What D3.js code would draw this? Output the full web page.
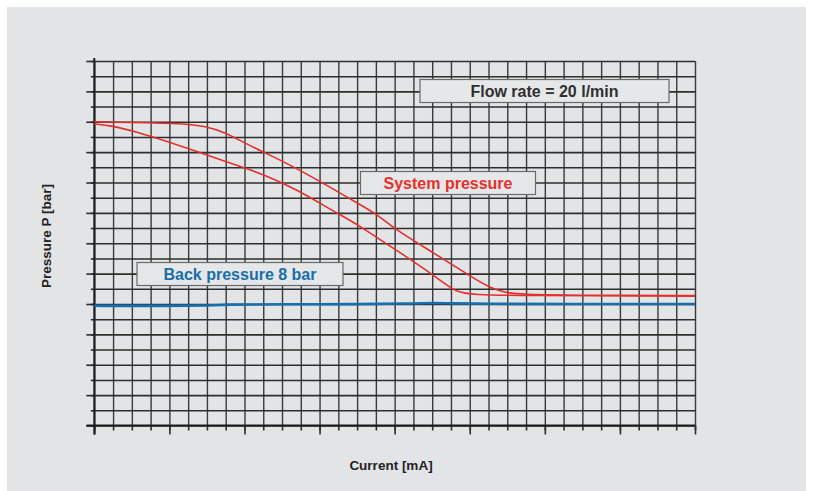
<!DOCTYPE html>
<html>
  <head>
    <title>Pressure vs current</title>
    <script src="https://d3js.org/d3.v7.min.js"></script>
    <style>
        body { margin: 0; background: #ffffff; }
        text { font-family: "Liberation Sans", Arial, Helvetica, sans-serif; font-weight: bold; }
    </style>
  </head>
  <body>
    <svg id="chart" width="813" height="491"></svg>
  </body>
  <script type="text/javascript">
    // current in grid units (32 columns), pressure in bar (24 rows)
    var upperX = [0, 4.8, 5.9, 7.0, 8.0, 9.1, 10.2, 12.0, 14.0, 15.2, 15.9, 18.1, 20.2, 21.1, 22.0, 22.7, 26, 32];
    var upperY = [20.0, 19.9, 19.7, 19.3, 18.6, 17.95, 17.3, 16.1, 14.65, 13.8, 13.0, 11.35, 9.7, 9.05, 8.72, 8.64, 8.57, 8.55];
    var lowerX = [0, 0.9, 2.2, 3.9, 5.7, 7.5, 9.1, 10.8, 12.6, 14.2, 15.2, 16.6, 18.4, 19.3, 20.2, 22.7, 32];
    var lowerY = [19.85, 19.74, 19.36, 18.7, 17.94, 17.17, 16.5, 15.53, 14.21, 13.11, 12.24, 11.14, 9.61, 8.75, 8.62, 8.55, 8.52];
    var backX = [0, 3, 6.6, 6.8, 10, 14, 17, 18, 19, 21, 25, 32];
    var backY = [7.88, 7.87, 7.89, 7.97, 7.98, 7.99, 8.03, 8.08, 8.04, 8.01, 8.0, 8.0];

    var xTicks = d3.range(0, 33);
    var yTicks = d3.range(0, 25);

    var svg = d3.select("#chart");

    svg.append("rect")
        .attr("x", 7).attr("y", 7)
        .attr("width", 799).attr("height", 484)
        .attr("fill", "#e3e4e6");

    var plotLeft = 94.3, plotRight = 695, plotTop = 61, plotBottom = 425.5;
    var xScale = d3.scaleLinear().domain([0, 32]).range([plotLeft, plotRight]);
    var yScale = d3.scaleLinear().domain([0, 24]).range([plotBottom, plotTop]);

    // vertical grid lines
    svg.append("g")
        .attr("transform", "translate(0," + plotBottom + ")")
        .call(d3.axisBottom(xScale).tickValues(xTicks).tickSize(-(plotBottom - plotTop)).tickFormat(""))
        .call(function(g){
            g.select(".domain").remove();
            g.selectAll("line").attr("stroke", "#3a3a3a").attr("stroke-width", 1.4);
        });

    // horizontal grid lines
    svg.append("g")
        .attr("transform", "translate(" + plotLeft + ",0)")
        .call(d3.axisLeft(yScale).tickValues(yTicks).tickSize(-(plotRight - plotLeft)).tickFormat(""))
        .call(function(g){
            g.select(".domain").remove();
            g.selectAll("line").attr("stroke", "#2e2e2e").attr("stroke-width", 1.6);
        });

    // outward tick marks
    svg.append("g")
        .attr("transform", "translate(0," + plotBottom + ")")
        .call(d3.axisBottom(xScale).tickValues(xTicks).tickSize(5).tickFormat(""))
        .call(function(g){ g.select(".domain").remove(); });
    svg.append("g")
        .attr("transform", "translate(0," + plotBottom + ")")
        .call(d3.axisBottom(xScale).tickValues(xTicks.filter(function(d){ return d % 4 === 0; })).tickSize(9).tickFormat(""))
        .call(function(g){ g.select(".domain").remove(); });
    svg.append("g")
        .attr("transform", "translate(" + plotLeft + ",0)")
        .call(d3.axisLeft(yScale).tickValues(yTicks).tickSize(3.5).tickFormat(""))
        .call(function(g){ g.select(".domain").remove(); });
    svg.append("g")
        .attr("transform", "translate(" + plotLeft + ",0)")
        .call(d3.axisLeft(yScale).tickValues(yTicks.filter(function(d){ return d % 2 === 0; })).tickSize(8).tickFormat(""))
        .call(function(g){ g.select(".domain").remove(); });
    svg.selectAll(".tick line").filter(function(){ return !this.getAttribute("stroke-width"); })
        .attr("stroke", "#2e2e2e").attr("stroke-width", 1.6);

    // main axis lines
    svg.append("line").attr("x1", 86.5).attr("x2", plotRight).attr("y1", plotBottom).attr("y2", plotBottom)
        .attr("stroke", "#1e1e1e").attr("stroke-width", 2);
    svg.append("line").attr("x1", plotLeft).attr("x2", plotLeft).attr("y1", plotTop - 3).attr("y2", plotBottom + 9)
        .attr("stroke", "#1e1e1e").attr("stroke-width", 2);

    var line = d3.line()
        .x(function(d){ return xScale(d[0]); })
        .y(function(d){ return yScale(d[1]); })
        .curve(d3.curveBasis);

    svg.append("path").datum(d3.zip(backX, backY))
        .attr("d", line).attr("fill", "none")
        .attr("stroke", "#1670b0").attr("stroke-width", 2.6);
    svg.append("path").datum(d3.zip(upperX, upperY))
        .attr("d", line).attr("fill", "none")
        .attr("stroke", "#e3302e").attr("stroke-width", 1.6);
    svg.append("path").datum(d3.zip(lowerX, lowerY))
        .attr("d", line).attr("fill", "none")
        .attr("stroke", "#e3302e").attr("stroke-width", 1.6);

    // label boxes
    function labelBox(x, y, w, h, txt, color){
        svg.append("rect").attr("x", x).attr("y", y).attr("width", w).attr("height", h)
            .attr("fill", "#e6e7e9").attr("stroke", "#6a6a6a").attr("stroke-width", 1.2);
        svg.append("text").attr("x", x + w / 2).attr("y", y + h / 2 + 5.5)
            .attr("text-anchor", "middle").attr("font-size", 16)
            .attr("fill", color).text(txt);
    }
    labelBox(420, 79.5, 249, 23, "Flow rate = 20 l/min", "#2f2f2f");
    labelBox(360.5, 171.5, 175, 23, "System pressure", "#e5302c");
    labelBox(137, 262.5, 206, 23, "Back pressure 8 bar", "#176ea9");

    svg.append("text")
        .attr("transform", "translate(51,236) rotate(-90)")
        .attr("text-anchor", "middle").attr("font-size", 13.5)
        .attr("fill", "#222").text("Pressure P [bar]");
    svg.append("text")
        .attr("x", 391).attr("y", 470)
        .attr("text-anchor", "middle").attr("font-size", 13.5)
        .attr("fill", "#222").text("Current [mA]");
  </script>
</html>
